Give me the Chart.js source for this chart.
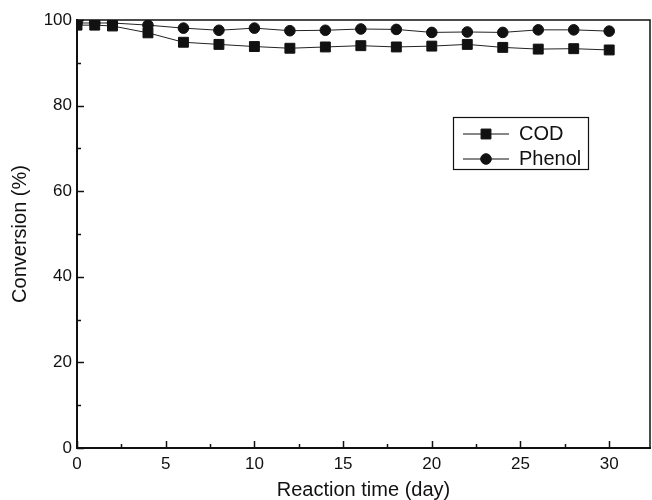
<!DOCTYPE html>
<html>
<head>
<meta charset="utf-8">
<script src="https://cdn.jsdelivr.net/npm/chart.js@4/dist/chart.umd.min.js"></script>
<style>
  body { margin: 0; background: #fff; }
  canvas { display: block; }
</style>
</head>
<body>
<canvas id="chart" width="652" height="500"></canvas>
<script>
// values
const days = [0, 1, 2, 4, 6, 8, 10, 12, 14, 16, 18, 20, 22, 24, 26, 28, 30];
const cod = [98.8, 98.8, 98.6, 97.0, 94.8, 94.3, 93.8, 93.4, 93.7, 94.0, 93.7, 93.9, 94.3, 93.6, 93.2, 93.3, 93.0];
const phenol = [99.3, 99.3, 99.3, 98.8, 98.1, 97.6, 98.1, 97.5, 97.6, 97.9, 97.8, 97.1, 97.2, 97.1, 97.7, 97.7, 97.4];
const xLabels = [0, 5, 10, 15, 20, 25, 30];
const yLabels = [0, 20, 40, 60, 80, 100];

const FONT = "'Liberation Sans', Arial, sans-serif";
const INK = '#111';

const toPoints = (xs, ys) => xs.map((d, i) => ({ x: d, y: ys[i] }));

// frame, inward ticks and the legend samples
const extras = {
  id: 'extras',
  afterLayout(chart) {
    const lg = chart.legend;
    lg.left = 458;
    lg.top = 119;
  },
  afterDraw(chart) {
    const { ctx, chartArea: a, scales: { x, y } } = chart;
    ctx.save();
    ctx.strokeStyle = INK;
    ctx.lineWidth = 1.5;
    ctx.strokeRect(a.left, a.top, a.right - a.left, a.bottom - a.top);

    ctx.beginPath();
    x.ticks.forEach(t => {
      const px = Math.round(x.getPixelForValue(t.value)) + 0.5;
      const len = xLabels.includes(t.value) ? 7 : 4;
      ctx.moveTo(px, a.bottom);
      ctx.lineTo(px, a.bottom - len);
    });
    y.ticks.forEach(t => {
      const py = Math.round(y.getPixelForValue(t.value)) + 0.5;
      const len = yLabels.includes(t.value) ? 7 : 4;
      ctx.moveTo(a.left, py);
      ctx.lineTo(a.left + len, py);
    });
    ctx.stroke();

    // legend border + line/marker samples
    ctx.lineWidth = 1.2;
    ctx.strokeRect(453.5, 117.5, 135, 52);
    const lg = chart.legend;
    const boxW = lg.options.labels.boxWidth;
    lg.legendHitBoxes.forEach((hb, i) => {
      const ds = chart.data.datasets[i];
      const cy = hb.top + hb.height / 2;
      ctx.strokeStyle = INK;
      ctx.lineWidth = 1;
      ctx.beginPath();
      ctx.moveTo(hb.left, cy);
      ctx.lineTo(hb.left + boxW, cy);
      ctx.stroke();
      ctx.fillStyle = INK;
      Chart.helpers.drawPoint(ctx, {
        pointStyle: ds.pointStyle, radius: ds.pointRadius, rotation: 0, borderWidth: 1
      }, hb.left + boxW / 2, cy);
    });
    ctx.restore();
  }
};

new Chart(document.getElementById('chart'), {
  type: 'line',
  data: {
    datasets: [
      {
        label: 'COD',
        data: toPoints(days, cod),
        borderColor: '#222',
        backgroundColor: INK,
        borderWidth: 1,
        pointStyle: 'rect',
        pointRadius: 7,
        pointBorderColor: INK,
        pointBackgroundColor: INK,
        tension: 0
      },
      {
        label: 'Phenol',
        data: toPoints(days, phenol),
        borderColor: '#222',
        backgroundColor: INK,
        borderWidth: 1,
        pointStyle: 'circle',
        pointRadius: 5.3,
        pointBorderColor: INK,
        pointBackgroundColor: INK,
        tension: 0
      }
    ]
  },
  options: {
    responsive: false,
    animation: false,
    layout: { autoPadding: false, padding: { top: 20, right: 2, left: 0, bottom: 0 } },
    plugins: {
      tooltip: { enabled: false },
      legend: {
        position: 'chartArea',
        align: 'start',
        labels: {
          color: INK,
          font: { family: FONT, size: 20 },
          boxWidth: 46,
          boxHeight: 10,
          padding: 5,
          generateLabels: c => Chart.defaults.plugins.legend.labels.generateLabels(c).map(l => ({
            ...l, fillStyle: 'rgba(0,0,0,0)', strokeStyle: 'rgba(0,0,0,0)', lineWidth: 0
          }))
        }
      }
    },
    scales: {
      x: {
        type: 'linear',
        min: 0,
        max: 32.3,
        afterFit: s => { s.height = 52; s.paddingLeft = 0; s.paddingRight = 0; },
        border: { color: INK, width: 2 },
        grid: { display: false, drawTicks: false },
        ticks: {
          stepSize: 2.5,
          includeBounds: false,
          padding: 6,
          color: INK,
          font: { family: FONT, size: 17 },
          maxRotation: 0,
          autoSkip: false,
          callback: v => (xLabels.includes(v) ? String(v) : '')
        },
        title: {
          display: true,
          text: 'Reaction time (day)',
          color: INK,
          font: { family: FONT, size: 20, lineHeight: 1 },
          padding: { top: 0, bottom: 0 }
        }
      },
      y: {
        min: 0,
        max: 100,
        afterFit: s => { s.width = 77; },
        border: { color: INK, width: 2 },
        grid: { display: false, drawTicks: false },
        ticks: {
          stepSize: 10,
          padding: 5,
          color: INK,
          font: { family: FONT, size: 17 },
          autoSkip: false,
          callback: v => (yLabels.includes(v) ? String(v) : '')
        },
        title: {
          display: true,
          text: 'Conversion (%)',
          color: INK,
          font: { family: FONT, size: 20, lineHeight: 1 },
          padding: { top: 10, bottom: 0 }
        }
      }
    }
  },
  plugins: [extras]
});
</script>
</body>
</html>
